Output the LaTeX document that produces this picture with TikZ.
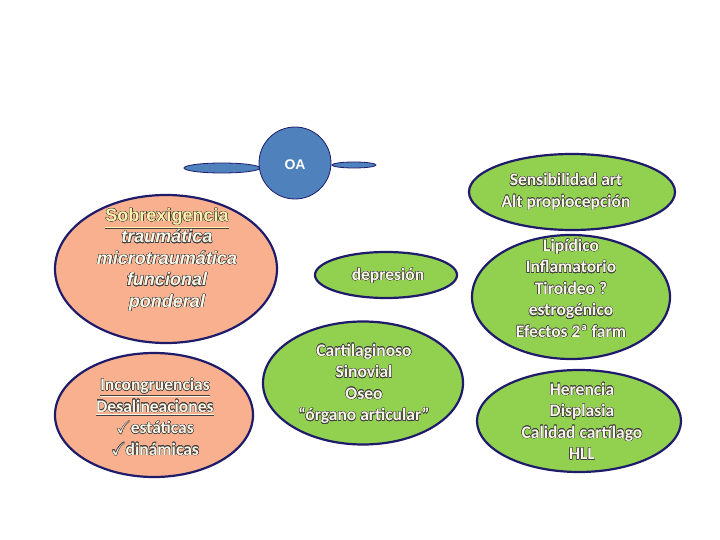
\documentclass[tikz,border=0pt]{standalone}
\usepackage{fontspec}
\setmainfont{Carlito}
\newfontfamily\arialfont{Liberation Sans}
\usepackage{amssymb}
\usepackage[copies]{contour}
\usetikzlibrary{shapes.geometric}
\definecolor{Marino}{HTML}{1F1B6B}
\definecolor{Salmon}{HTML}{F8B08F}
\definecolor{Verde}{HTML}{92D050}
\definecolor{AzulOA}{HTML}{4F81BD}
\definecolor{Crema}{HTML}{FAF6E6}
\definecolor{Amarillo}{HTML}{FFF3A8}
\definecolor{Sombra}{HTML}{404040}
\contourlength{0.4pt}
\newcommand{\sombra}[1]{\contour{Sombra}{#1}}

\begin{document}
\begin{tikzpicture}[
  x=1pt,y=-1pt,
  blob/.style={ellipse,draw=Marino,line width=2.2pt,inner sep=0pt},
  verde/.style={blob,fill=Verde},
  rosa/.style={blob,fill=Salmon},
  azul/.style={ellipse,draw=Marino,line width=0.8pt,fill=AzulOA,inner sep=0pt},
  texto/.style={align=center,text=Crema,font=\bfseries\fontsize{17.5}{21.5}\selectfont}
]
  \useasboundingbox (0,0) rectangle (720,540);

  % Nucleo OA con sus brazos
  \node[azul,minimum width=76pt,minimum height=10pt] (brazoizq) at (222,168) {};
  \node[azul,minimum width=44pt,minimum height=6pt] (brazoder) at (354,165) {};
  \node[azul,circle,minimum size=72pt] (oa) at (295,163) {};
  \node[text=white,font=\arialfont\bfseries\fontsize{14}{16}\selectfont] (oatxt) at (295,165) {OA};

  % Factores mecanicos (izquierda)
  \node[rosa,minimum width=222pt,minimum height=148pt] (sob) at (166,269) {};
  \node[texto,font=\arialfont\bfseries\itshape\fontsize{18}{21.5}\selectfont] (sobtxt) at (167,260)
    {\textcolor{Amarillo}{\sombra{\upshape\underline{Sobrexigencia}}}\\
     \sombra{traumática}\\ \sombra{microtraumática}\\ \sombra{funcional}\\ \sombra{ponderal}};
  \node[rosa,minimum width=198pt,minimum height=124pt] (inc) at (154,415) {};
  \node[texto] (inctxt) at (155,417)
    {\sombra{\underline{Incongruencias}}\\ \sombra{\underline{Desalineaciones}}\\
     \sombra{$\checkmark$estáticas}\\ \sombra{$\checkmark$dinámicas}};

  % Centro
  \node[verde,minimum width=142pt,minimum height=46pt] (dep) at (386,275) {};
  \node[texto] (deptxt) at (388,276) {\sombra{depresión}};
  \node[verde,minimum width=200pt,minimum height=123pt] (car) at (363,383) {};
  \node[texto] (cartxt) at (364,384)
    {\sombra{Cartilaginoso}\\ \sombra{Sinovial}\\ \sombra{Oseo}\\ \sombra{“órgano articular”}};

  % Factores sistemicos (derecha)
  \node[verde,minimum width=206pt,minimum height=76pt] (sen) at (572,192) {};
  \node[texto] (sentxt) at (566,192)
    {\sombra{Sensibilidad art}\\ \sombra{Alt propiocepción}};
  \node[verde,minimum width=198pt,minimum height=124pt] (lip) at (571,297) {};
  \node[texto] (liptxt) at (571,288.5)
    {\sombra{Lipídico}\\ \sombra{Inflamatorio}\\ \sombra{Tiroideo ?}\\
     \sombra{estrogénico}\\ \sombra{Efectos 2ª farm}};
  \node[verde,minimum width=204pt,minimum height=102pt] (her) at (579,421) {};
  \node[texto] (hertxt) at (582,421.5)
    {\sombra{Herencia}\\ \sombra{Displasia}\\ \sombra{Calidad cartílago}\\ \sombra{HLL}};
\end{tikzpicture}
\end{document}
